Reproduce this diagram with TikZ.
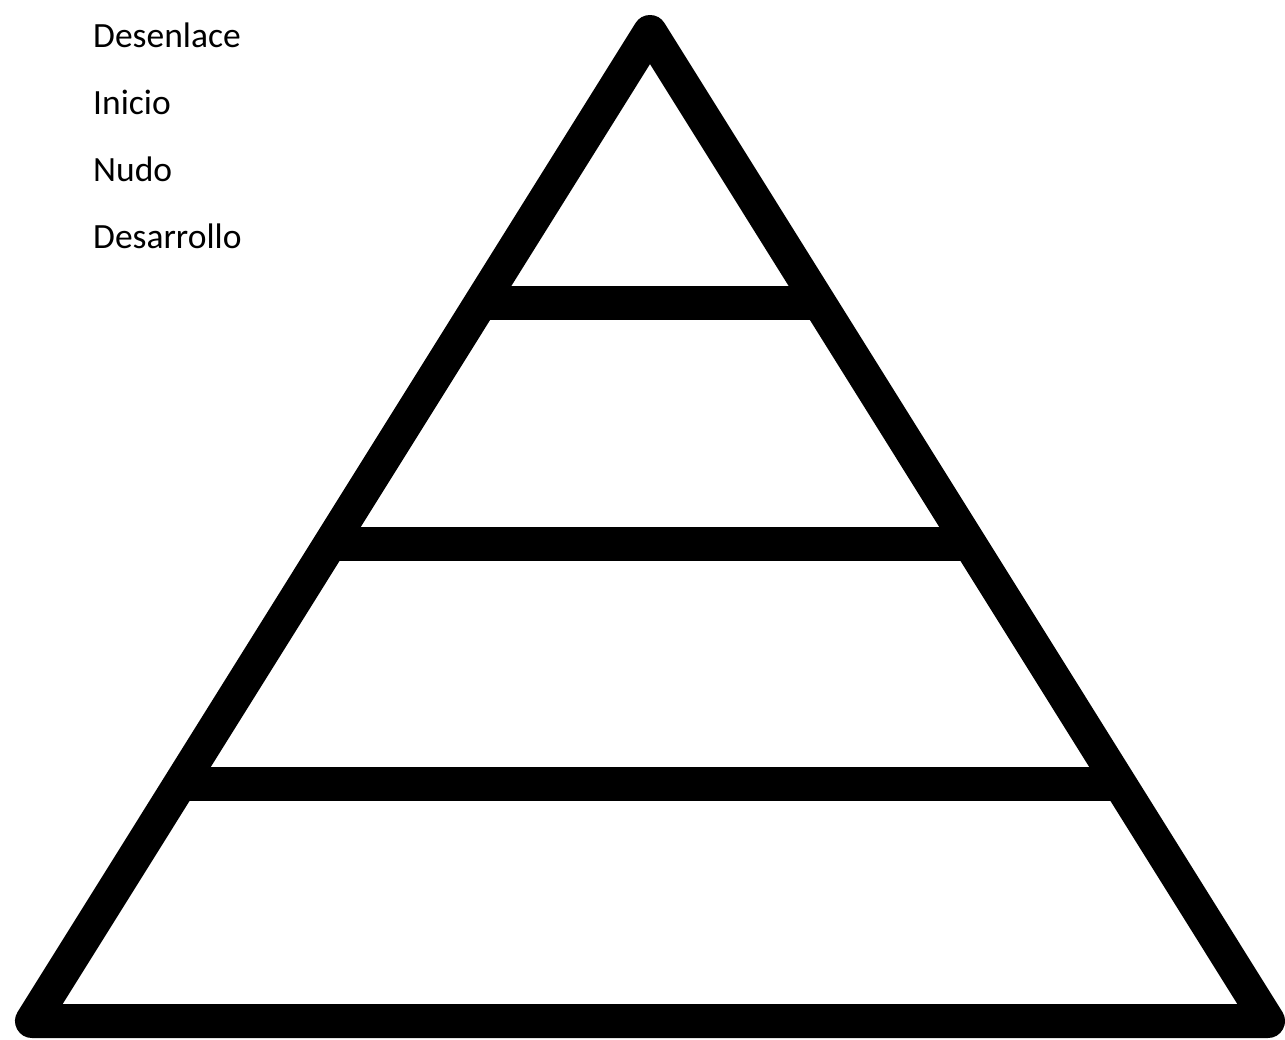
\documentclass[tikz,border=0pt]{standalone}
\usepackage{fontspec}
\setmainfont{Carlito}
\usetikzlibrary{calc}
\begin{document}
\begin{tikzpicture}[x=1pt,y=-1pt,
  frame/.style={line width=34pt,line join=round,line cap=round,black},
  bar/.style={line width=34pt,black},
  lbl/.style={anchor=base west,inner sep=0pt,font=\fontsize{35.5}{42}\selectfont}]
\useasboundingbox (0,0) rectangle (1285,1039);
\fill[white] (0,0) rectangle (1285,1039);
\coordinate (apex) at (650,32);
\coordinate (bl) at (32,1021);
\coordinate (br) at (1268,1021);
\draw[frame] (apex) -- (bl) -- (br) -- cycle;
\foreach \yy [count=\i] in {303,544,784}{
  \coordinate (l\i) at ($(apex)!{(\yy-32)/989}!(bl)$);
  \coordinate (r\i) at ($(apex)!{(\yy-32)/989}!(br)$);
  \draw[bar] (l\i) -- (r\i);
}
\node[lbl] (t1) at (93,47) {Desenlace};
\node[lbl] (t2) at (93,114) {Inicio};
\node[lbl] (t3) at (93,181) {Nudo};
\node[lbl] (t4) at (93,248) {Desarrollo};
\end{tikzpicture}
\end{document}
